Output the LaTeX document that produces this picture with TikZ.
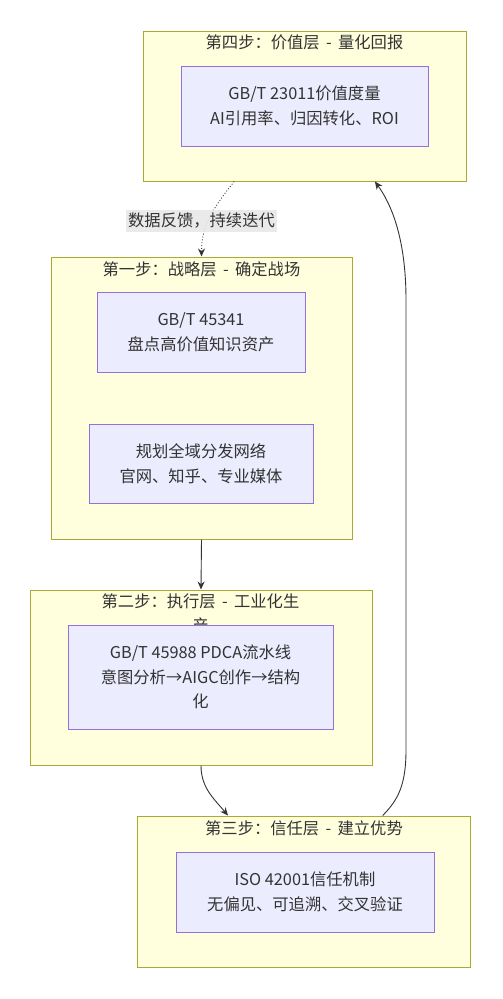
\documentclass[tikz,border=0pt]{standalone}
\usepackage{fontspec}
\setmainfont{Noto Sans CJK SC}
\usetikzlibrary{arrows.meta}
\definecolor{laneFill}{HTML}{FFFFDE}
\definecolor{laneLine}{HTML}{AAAA33}
\definecolor{boxFill}{HTML}{ECECFF}
\definecolor{boxLine}{HTML}{9370DB}
\definecolor{ink}{HTML}{333333}
\definecolor{tagFill}{HTML}{E8E8E8}
\tikzset{
  lane/.style={draw=laneLine, fill=laneFill, line width=1pt, inner sep=0pt},
  box/.style={draw=boxLine, fill=boxFill, line width=1pt, inner sep=0pt,
    align=center, text=ink},
  title/.style={text=ink, align=center, inner sep=0pt},
  tag/.style={fill=tagFill, fill opacity=0.9, text opacity=1, text=ink,
    inner sep=2pt, minimum height=22pt}
}
\begin{document}
\begin{tikzpicture}[x=1pt, y=-1pt, font=\fontsize{16.3}{24.5}\selectfont,
  >={Stealth[length=8pt,width=7pt]}]
  \useasboundingbox (0,0) rectangle (503,999);
  % step four
  \node[lane, minimum width=323pt, minimum height=150pt] (s4) at (304.5, 106) {};
  \node[title] (t4) at (304.5, 42) {第四步：价值层 \,-\, 量化回报};
  \node[box, minimum width=247pt, minimum height=80pt] (b4) at (304.5, 106)
    {GB/T 23011价值度量\\AI引用率、归因转化、ROI};
  % step one
  \node[lane, minimum width=301pt, minimum height=282pt] (s1) at (201.5, 398) {};
  \node[title] (t1) at (201.5, 269) {第一步：战略层 \,-\, 确定战场};
  \node[box, minimum width=208pt, minimum height=80pt] (b1a) at (201, 332)
    {GB/T 45341\\盘点高价值知识资产};
  \node[box, minimum width=224pt, minimum height=79pt] (b1b) at (201, 463.5)
    {规划全域分发网络\\官网、知乎、专业媒体};
  % step two
  \node[lane, minimum width=342pt, minimum height=175pt] (s2) at (201, 677.5) {};
  \node[title] (t2) at (200.5, 613.5) {第二步：执行层 \,-\, 工业化生\\产};
  \node[box, minimum width=265pt, minimum height=104pt] (b2) at (200.5, 677)
    {GB/T 45988 PDCA流水线\\意图分析→AIGC创作→结构\\化};
  % step three
  \node[lane, minimum width=333pt, minimum height=151pt] (s3) at (304, 891.5) {};
  \node[title] (t3) at (304, 828) {第三步：信任层 \,-\, 建立优势};
  \node[box, minimum width=258pt, minimum height=80pt] (b3) at (305, 892)
    {ISO 42001信任机制\\无偏见、可追溯、交叉验证};
  % links
  \draw[->, ink, line width=0.9pt] (s1.south) -- (s2.north);
  \draw[->, ink, line width=0.9pt] (s2.south) to[out=-90, in=130] (s3.135);
  \draw[->, ink, line width=0.9pt] (s3.44) .. controls (398,800) and (406,785) .. (406,750)
    -- (406,300) .. controls (406,240) and (392,205) .. (s4.-47);
  \draw[->, ink, line width=0.9pt, dotted] (s4.227) to[out=-128, in=90] (s1.north);
  \node[tag] (fb) at (201.5, 221) {数据反馈，持续迭代};
\end{tikzpicture}
\end{document}
